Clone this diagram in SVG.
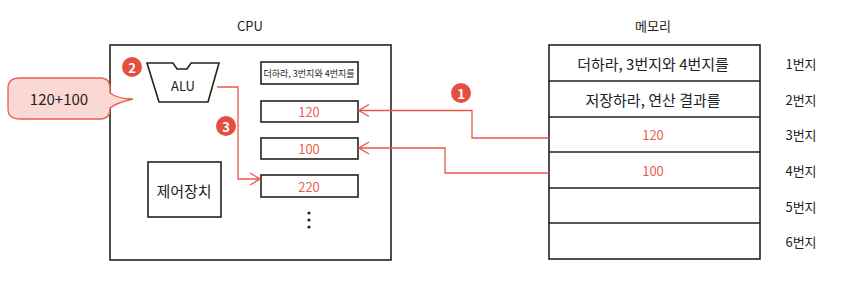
<svg xmlns="http://www.w3.org/2000/svg" width="858" height="302" viewBox="0 0 858 302">
<style>
text{font-family:"Noto Sans CJK KR","Noto Sans",sans-serif;fill:#222;text-anchor:middle;dominant-baseline:central}
.box{fill:#fff;stroke:#222;stroke-width:1.6}
.red{fill:#ec5f50}
.conn{fill:none;stroke:#e8584a;stroke-width:1.3}
.badge circle{fill:#e4503e}
.badge text{fill:#fff;font-weight:bold;font-size:13px}
.t13{font-size:13px}
.t15{font-size:15px}
</style>
<defs>
<marker id="arr" viewBox="0 0 12 14" refX="11" refY="7" markerWidth="12" markerHeight="14" markerUnits="userSpaceOnUse" orient="auto">
<path d="M1,1 L11,7 L1,13" fill="none" stroke="#e8584a" stroke-width="1.3"/>
</marker>
</defs>
<rect width="858" height="302" fill="#fff"/>
<text x="250" y="25" class="t13">CPU</text>
<text x="653" y="25" class="t13">메모리</text>
<g id="cpu"><rect class="box" x="110" y="45" width="281" height="215"/></g>
<g id="alu">
<path class="box" d="M147,63 L173,63 L177,69 L187,69 L191,63 L219,63 L208,102 L159,102 Z"/>
<text x="183" y="85" class="t13">ALU</text>
</g>
<g id="control"><rect class="box" x="148" y="162" width="73" height="55"/><text x="184" y="190" class="t15">제어장치</text></g>
<g id="reg0"><rect class="box" x="261" y="62" width="97" height="22"/><text x="309" y="73" style="font-size:9px">더하라, 3번지와 4번지를</text></g>
<g id="reg1"><rect class="box" x="261" y="101" width="97" height="21"/><text x="309" y="111.5" class="t13 red">120</text></g>
<g id="reg2"><rect class="box" x="261" y="138" width="97" height="21"/><text x="309" y="148.5" class="t13 red">100</text></g>
<g id="reg3"><rect class="box" x="261" y="175" width="97" height="22"/><text x="309" y="186" class="t13 red">220</text></g>
<g id="dots" fill="#222"><circle cx="309" cy="213" r="1.6"/><circle cx="309" cy="220" r="1.6"/><circle cx="309" cy="227" r="1.6"/></g>
<g id="bubble">
<path d="M20,78 L100,78 Q110,78 110,88 L110,93 Q118,99 133,99 Q116,103 110,108 L110,109 Q110,119 100,119 L20,119 Q8,119 8,109 L8,88 Q8,78 20,78 Z" fill="#fbd8d3" stroke="#e8604f" stroke-width="1.3"/>
<text x="59" y="98" class="t15">120+100</text>
</g>
<g id="memory">
<rect class="box" x="549" y="45" width="211" height="214"/>
<path d="M549,81 H760 M549,117 H760 M549,152 H760 M549,188 H760 M549,223 H760" stroke="#222" stroke-width="1.6"/>
<text x="653" y="63" class="t15">더하라, 3번지와 4번지를</text>
<text x="653" y="99" class="t15">저장하라, 연산 결과를</text>
<text x="653" y="134" class="t13 red">120</text>
<text x="653" y="170" class="t13 red">100</text>
</g>
<g id="addresses">
<text x="801" y="63" class="t13">1번지</text>
<text x="801" y="99" class="t13">2번지</text>
<text x="801" y="134" class="t13">3번지</text>
<text x="801" y="170" class="t13">4번지</text>
<text x="801" y="206" class="t13">5번지</text>
<text x="801" y="241" class="t13">6번지</text>
</g>
<g id="connectors">
<path class="conn" d="M549,138 H472 V110.5 H359" marker-end="url(#arr)"/>
<path class="conn" d="M549,173 H445 V148 H359" marker-end="url(#arr)"/>
<path class="conn" d="M217,87 H238 V179 H260" marker-end="url(#arr)"/>
</g>
<g class="badge" id="b1"><circle cx="461" cy="93" r="10"/><text x="461" y="93">1</text></g>
<g class="badge" id="b2"><circle cx="132" cy="67" r="10"/><text x="132" y="67">2</text></g>
<g class="badge" id="b3"><circle cx="226" cy="126" r="10"/><text x="226" y="126">3</text></g>
</svg>
